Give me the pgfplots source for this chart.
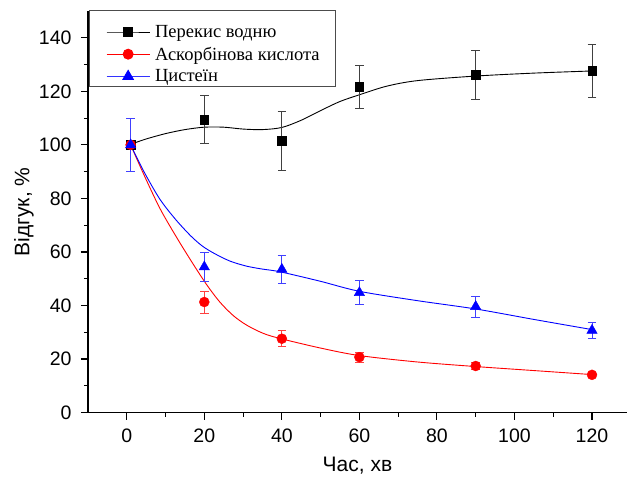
\documentclass[border=0pt]{standalone}
\usepackage{fontspec}
\setmainfont{Liberation Sans}
\newfontfamily\legfont{Liberation Serif}
\usepackage{pgfplots}
\usepackage{pgfplotstable}
\pgfplotsset{compat=1.18}

% measured points with error (x, y, err)
\pgfplotstableread{
x   y     e
1   100   10
20  109.5 9
40  101.6 11
60  121.7 8
90  126.1 9
120 127.6 10
}\perekis
\pgfplotstableread{
x   y     e
1   100   10
20  41.3  4.1
40  27.6  2.9
60  20.7  1.8
90  17.4  1.4
120 14.1  0.8
}\askorb
\pgfplotstableread{
x   y     e
1   100   10
20  54.4  5.4
40  53.5  5.3
60  44.8  4.4
90  39.6  3.9
120 30.7  3.0
}\cystein

\begin{document}
\begin{tikzpicture}
\begin{axis}[name=ax,
    scale only axis, width=538.9pt, height=401.6pt,
    xmin=-10, xmax=129, ymin=0, ymax=150,
    axis x line*=bottom, axis y line*=left,
    axis line style={line width=1.1pt, -},
    tick align=outside, tick style={line width=1.1pt, black},
    major tick length=7pt, minor tick length=4pt,
    xtick={0,20,...,120}, ytick={0,20,...,140},
    minor x tick num=1, minor y tick num=1,
    tick label style={font=\fontsize{19.5}{22}\selectfont},
    xticklabel style={yshift=-6pt},
    yticklabel style={xshift=-6pt},
    /pgf/number format/assume math mode=true,
    xlabel={Час, хв}, ylabel={Відгук, \%},
    label style={font=\fontsize{21}{24}\selectfont},
    xlabel style={at={(axis description cs:0.5,0)}, anchor=center, yshift=-53.5pt},
    ylabel style={at={(axis description cs:0,0.5)}, anchor=center, yshift=64pt},
    legend style={at={(0,1)}, anchor=north west, yshift=-7pt, draw=none, fill=none,
        font=\legfont\fontsize{18.5}{21}\selectfont, row sep=4pt, inner xsep=4pt, inner ysep=5pt},
    legend cell align=left,
    legend image code/.code={\path (0pt,0pt) (60pt,0pt);
        \draw[mark repeat=2, mark phase=2, #1] plot coordinates {(14pt,0pt) (35.5pt,0pt) (57pt,0pt)};},
]
\addlegendimage{black, line width=0.9pt, mark=square*, mark size=4.3pt}
\addlegendentry{Перекис водню}
\addlegendimage{red, line width=0.9pt, mark=*, mark size=5pt}
\addlegendentry{Аскорбінова кислота}
\addlegendimage{blue!80, line width=0.9pt, mark=triangle*, mark size=6pt, mark options={blue}}
\addlegendentry{Цистеїн}

% fitted curves
\addplot[black, line width=0.9pt, smooth, no markers, forget plot] coordinates {
(1,100.2) (5,102.2) (10,104.2) (15,105.7) (20,106.6) (25,106.6) (30,105.9) (35,105.7)
(40,106.5) (45,109.2) (50,112.8) (55,116.2) (60,118.7) (67,121.9) (75,124) (90,125.7)
(105,126.8) (120,127.6)};
\addplot[red, line width=0.9pt, smooth, no markers, forget plot] coordinates {
(1,100) (4.5,88.6) (8.5,76.4) (12.5,66.3) (16.5,56.9) (20.5,48) (24,41.3)
(27.5,36.2) (31,32.6) (35.2,29.6) (39.5,27.7) (50,24.1) (60,21.3) (75,18.9)
(90,17.2) (105,15.7) (120,14.2)};
\addplot[blue, line width=0.9pt, smooth, no markers, forget plot] coordinates {
(1,100) (4.5,89.8) (8.5,79.8) (12.5,72.3) (16.5,66) (19.5,62.2) (22.5,59.5)
(26.6,56.6) (30.9,54.7) (35,53.6) (39.5,52.6) (49.8,49.1) (60,45.3) (75,41.8)
(90,38.7) (105,34.8) (120,31)};

% data points
\addplot[only marks, black, mark=square*, mark size=4.3pt, forget plot,
    error bars/.cd, y dir=both, y explicit,
    error bar style={black!75, line width=0.9pt},
    error mark options={rotate=90, black!75, line width=0.9pt, mark size=4.3pt}]
    table[x=x, y=y, y error=e] {\perekis};
\addplot[only marks, red, mark=*, mark size=5pt, forget plot,
    error bars/.cd, y dir=both, y explicit,
    error bar style={red!75, line width=0.9pt},
    error mark options={rotate=90, red!75, line width=0.9pt, mark size=4.3pt}]
    table[x=x, y=y, y error=e] {\askorb};
\addplot[only marks, blue, mark=triangle*, mark size=6pt, forget plot,
    error bars/.cd, y dir=both, y explicit,
    error bar style={blue!75, line width=0.9pt},
    error mark options={rotate=90, blue!75, line width=0.9pt, mark size=4.3pt}]
    table[x=x, y=y, y error=e] {\cystein};
\end{axis}
% legend frame
\draw[black!70, line width=0.8pt] ([shift={(1pt,325.9pt)}]ax.south west) rectangle ([shift={(247pt,402.6pt)}]ax.south west);
\pgfresetboundingbox
\path[use as bounding box] ([shift={(-88pt,-73.4pt)}]ax.south west) rectangle ([shift={(539pt,412.6pt)}]ax.south west);
\end{tikzpicture}
\end{document}
